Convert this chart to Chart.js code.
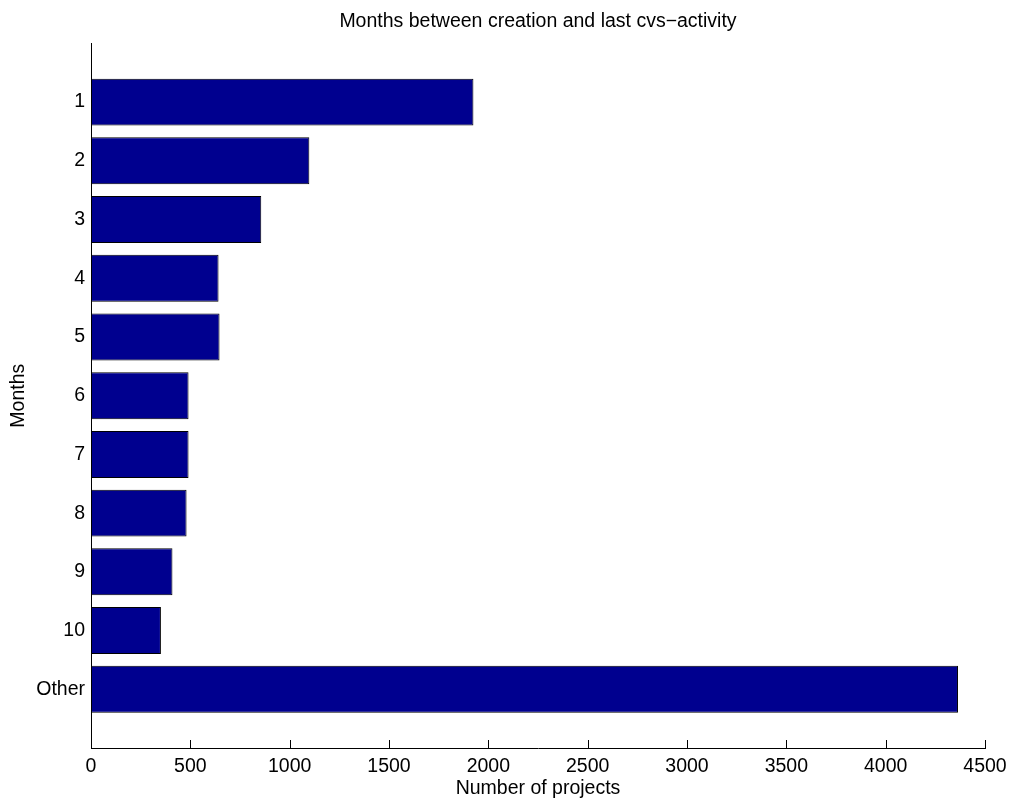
<!DOCTYPE html>
<html>
<head>
<meta charset="utf-8">
<script src="https://cdn.jsdelivr.net/npm/chart.js@4.4.1/dist/chart.umd.min.js"></script>
<style>
  html, body { margin: 0; padding: 0; background: #fff; }
  #wrap { width: 1010px; height: 800px; }
</style>
</head>
<body>
<div id="wrap"><canvas id="c" width="1010" height="800"></canvas></div>
<script>
// Months from project creation to last CVS activity
const categories = ['1', '2', '3', '4', '5', '6', '7', '8', '9', '10', 'Other'];
const projectCounts = [1925, 1099, 857, 642, 647, 491, 491, 481, 410, 352, 4364];
const xTickValues = [0, 500, 1000, 1500, 2000, 2500, 3000, 3500, 4000, 4500];

const FONT = "'Liberation Sans', Arial, Helvetica, sans-serif";
const FONT_SIZE = 19.5;
Chart.defaults.font.family = FONT;
Chart.defaults.color = '#000';

// small tick marks pointing into the plot from the bottom axis
const inwardTicks = {
  id: 'inwardTicks',
  afterDatasetsDraw(chart) {
    const s = chart.scales.x;
    const ctx = chart.ctx;
    const b = chart.chartArea.bottom;
    ctx.save();
    ctx.strokeStyle = '#000';
    ctx.lineWidth = 1;
    xTickValues.forEach(v => {
      const px = Math.round(s.getPixelForValue(v)) + 0.5;
      ctx.beginPath();
      ctx.moveTo(px, b);
      ctx.lineTo(px, b - 8);
      ctx.stroke();
    });
    ctx.restore();
  }
};

new Chart(document.getElementById('c'), {
  type: 'bar',
  data: {
    datasets: [{
      data: projectCounts.map((v, i) => ({ x: v, y: i + 1 })),
      backgroundColor: '#00008F',
      borderColor: '#000',
      borderWidth: 1,
      borderSkipped: false,
      categoryPercentage: 1,
      barPercentage: 0.8
    }]
  },
  options: {
    indexAxis: 'y',
    responsive: false,
    animation: false,
    devicePixelRatio: 1,
    layout: { padding: { left: 0, right: 25, top: 0, bottom: 0 } },
    plugins: {
      legend: { display: false },
      tooltip: { enabled: false },
      title: {
        display: true,
        text: 'Months between creation and last cvs\u2212activity',
        fullSize: false,
        font: { size: FONT_SIZE, weight: 'normal' },
        color: '#000',
        padding: { top: 10, bottom: 10 }
      }
    },
    scales: {
      x: {
        type: 'linear',
        position: 'bottom',
        min: 0,
        max: 4500,
        afterBuildTicks: s => { s.ticks = xTickValues.map(v => ({ value: v })); },
        ticks: {
          font: { size: FONT_SIZE },
          color: '#000',
          padding: 7,
          maxRotation: 0,
          autoSkip: false,
          callback: v => String(v)
        },
        grid: { display: false, drawTicks: false },
        border: { display: true, color: '#000', width: 1 },
        title: { display: true, text: 'Number of projects', font: { size: FONT_SIZE }, color: '#000', padding: { top: 0, bottom: 0 } },
        afterFit: s => { s.height = 52; s.paddingRight = 0; s.paddingLeft = 0; }
      },
      y: {
        type: 'linear',
        position: 'left',
        reverse: true,
        offset: false,
        min: 0,
        max: categories.length + 1,
        afterBuildTicks: s => {
          s.ticks = categories.map((c, i) => ({ value: i + 1 }));
        },
        ticks: {
          font: { size: FONT_SIZE },
          color: '#000',
          padding: 6,
          autoSkip: false,
          callback: v => categories[v - 1] ?? ''
        },
        grid: { display: false, drawTicks: false },
        border: { display: true, color: '#000', width: 1 },
        title: { display: true, text: 'Months', font: { size: FONT_SIZE }, color: '#000', padding: { top: 7, bottom: 0 } },
        afterFit: s => { s.width = 91; }
      }
    }
  },
  plugins: [inwardTicks]
});
</script>
</body>
</html>
